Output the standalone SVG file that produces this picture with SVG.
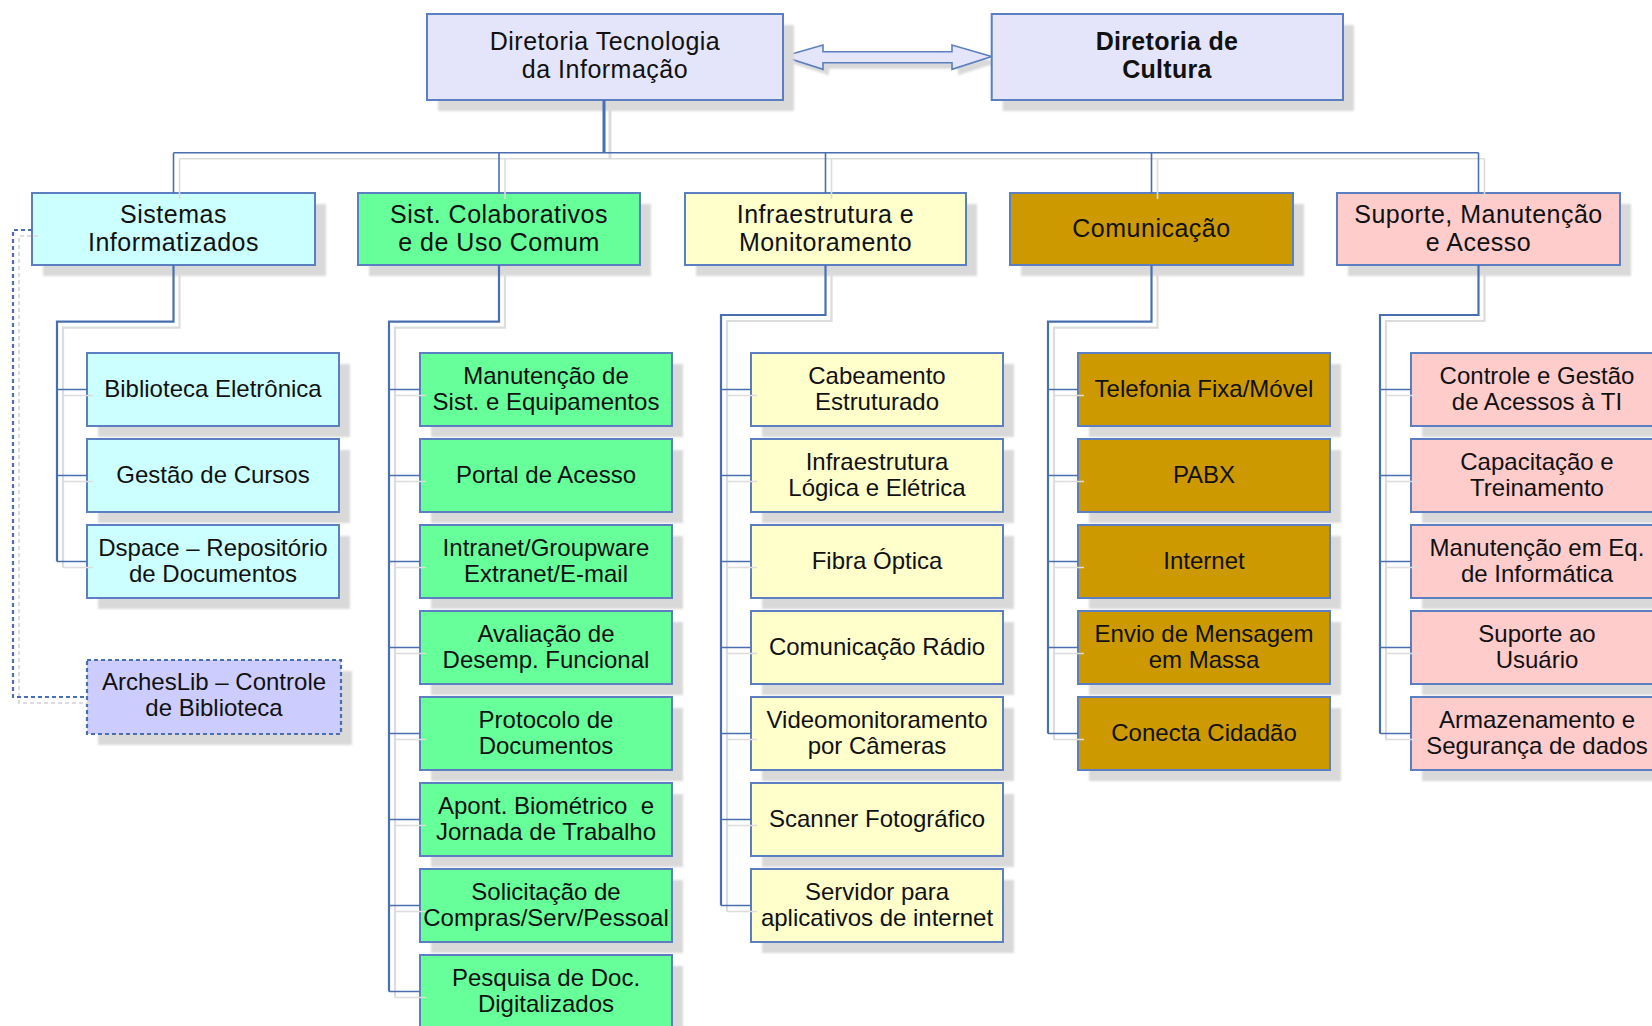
<svg xmlns="http://www.w3.org/2000/svg" width="1652" height="1026" viewBox="0 0 1652 1026">
<defs>
<filter id="blur" x="-5%" y="-5%" width="110%" height="110%"><feGaussianBlur stdDeviation="1"/></filter>
<style>
.sh{fill:#d9d9d9;filter:url(#blur)}
.box{stroke:#5b7fc0;stroke-width:2}
.lav{fill:#e4e5fb}
.cy{fill:#ccffff}
.gr{fill:#66ff99}
.ye{fill:#ffffcc}
.go{fill:#cc9900}
.pk{fill:#ffcccc}
.ar{fill:#ccccff;stroke:#4a6fb0;stroke-width:2.2;stroke-dasharray:4 3}
text{font-family:"Liberation Sans",Arial,sans-serif;fill:#111;text-anchor:middle}
.t0{font-size:25px;letter-spacing:0.5px}
.tb{font-size:25px;font-weight:bold;letter-spacing:0.3px}
.t2{font-size:24px}
.c{fill:none;stroke:#4a6fb0;stroke-linejoin:miter}
.cs{fill:none;stroke:#dcdcdc}
.w3{stroke-width:3}
.w2{stroke-width:2.2}
.w15{stroke-width:1.6}
.w1{stroke-width:1.3}
.dash{stroke-dasharray:4 3;stroke-width:2.2}
</style>
</defs>
<rect width="1652" height="1026" fill="#ffffff"/>

<!-- double arrow -->
<g id="arrow">
<polygon class="sh" transform="translate(6,6)" points="783,56.5 823,45 823,51.7 952,51.7 952,45 991.7,56.5 952,69.3 952,62.7 823,62.7 823,69.3"/>
<polygon fill="#e4e5fb" stroke="#5b7fc0" stroke-width="1.6" points="783,56.5 823,45 823,51.7 952,51.7 952,45 991.7,56.5 952,69.3 952,62.7 823,62.7 823,69.3"/>
</g>

<!-- top level -->
<g id="n-dti">
<rect class="sh" x="438" y="25" width="356" height="86"/>
<rect class="box lav" x="427" y="14" width="356" height="86"/>
<text class="t0" x="605" y="50">Diretoria Tecnologia</text>
<text class="t0" x="605" y="78.3">da Informação</text>
</g>
<g id="n-cultura">
<rect class="sh" x="1002.7" y="25" width="351.3" height="86"/>
<rect class="box lav" x="991.7" y="14" width="351.3" height="86"/>
<text class="tb" x="1167" y="50">Diretoria de</text>
<text class="tb" x="1167" y="78.3">Cultura</text>
</g>

<!-- level 1 -->
<g id="n-sistemas">
<rect class="sh" x="43" y="204" width="283" height="72"/>
<rect class="box cy" x="32" y="193" width="283" height="72"/>
<text class="t0" x="173.5" y="223.3">Sistemas</text>
<text class="t0" x="173.5" y="250.7">Informatizados</text>
</g>
<g id="n-colab">
<rect class="sh" x="369" y="204" width="282" height="72"/>
<rect class="box gr" x="358" y="193" width="282" height="72"/>
<text class="t0" x="499" y="223.3">Sist. Colaborativos</text>
<text class="t0" x="499" y="250.7">e de Uso Comum</text>
</g>
<g id="n-infra">
<rect class="sh" x="696" y="204" width="281" height="72"/>
<rect class="box ye" x="685" y="193" width="281" height="72"/>
<text class="t0" x="825.5" y="223.3">Infraestrutura e</text>
<text class="t0" x="825.5" y="250.7">Monitoramento</text>
</g>
<g id="n-com">
<rect class="sh" x="1021" y="204" width="283" height="72"/>
<rect class="box go" x="1010" y="193" width="283" height="72"/>
<text class="t0" x="1151.5" y="236.7">Comunicação</text>
</g>
<g id="n-suporte">
<rect class="sh" x="1348" y="204" width="283" height="72"/>
<rect class="box pk" x="1337" y="193" width="283" height="72"/>
<text class="t0" x="1478.5" y="223.3">Suporte, Manutenção</text>
<text class="t0" x="1478.5" y="250.7">e Acesso</text>
</g>

<!-- col 0 children -->
<g id="n-biblioteca">
<rect class="sh" x="98" y="364" width="252" height="73"/>
<rect class="box cy" x="87" y="353" width="252" height="73"/>
<text class="t2" x="213" y="397">Biblioteca Eletrônica</text>
</g>
<g id="n-gestao-cursos">
<rect class="sh" x="98" y="450" width="252" height="73"/>
<rect class="box cy" x="87" y="439" width="252" height="73"/>
<text class="t2" x="213" y="483">Gestão de Cursos</text>
</g>
<g id="n-dspace">
<rect class="sh" x="98" y="536" width="252" height="73"/>
<rect class="box cy" x="87" y="525" width="252" height="73"/>
<text class="t2" x="213" y="555.5">Dspace – Repositório</text>
<text class="t2" x="213" y="582">de Documentos</text>
</g>
<g id="n-archeslib">
<rect class="sh" x="98" y="671" width="254" height="74"/>
<rect class="ar" x="87" y="660" width="254" height="74"/>
<text class="t2" x="214" y="690">ArchesLib – Controle</text>
<text class="t2" x="214" y="716">de Biblioteca</text>
</g>

<!-- col 1 children -->
<g id="n-manut-sist">
<rect class="sh" x="431" y="364" width="252" height="73"/>
<rect class="box gr" x="420" y="353" width="252" height="73"/>
<text class="t2" x="546" y="383.5">Manutenção de</text>
<text class="t2" x="546" y="410">Sist. e Equipamentos</text>
</g>
<g id="n-portal">
<rect class="sh" x="431" y="450" width="252" height="73"/>
<rect class="box gr" x="420" y="439" width="252" height="73"/>
<text class="t2" x="546" y="483">Portal de Acesso</text>
</g>
<g id="n-intranet">
<rect class="sh" x="431" y="536" width="252" height="73"/>
<rect class="box gr" x="420" y="525" width="252" height="73"/>
<text class="t2" x="546" y="555.5">Intranet/Groupware</text>
<text class="t2" x="546" y="582">Extranet/E-mail</text>
</g>
<g id="n-avaliacao">
<rect class="sh" x="431" y="622" width="252" height="73"/>
<rect class="box gr" x="420" y="611" width="252" height="73"/>
<text class="t2" x="546" y="641.5">Avaliação de</text>
<text class="t2" x="546" y="668">Desemp. Funcional</text>
</g>
<g id="n-protocolo">
<rect class="sh" x="431" y="708" width="252" height="73"/>
<rect class="box gr" x="420" y="697" width="252" height="73"/>
<text class="t2" x="546" y="727.5">Protocolo de</text>
<text class="t2" x="546" y="754">Documentos</text>
</g>
<g id="n-apont">
<rect class="sh" x="431" y="794" width="252" height="73"/>
<rect class="box gr" x="420" y="783" width="252" height="73"/>
<text class="t2" x="546" y="813.5">Apont. Biométrico&#160; e</text>
<text class="t2" x="546" y="840">Jornada de Trabalho</text>
</g>
<g id="n-solicitacao">
<rect class="sh" x="431" y="880" width="252" height="73"/>
<rect class="box gr" x="420" y="869" width="252" height="73"/>
<text class="t2" x="546" y="899.5">Solicitação de</text>
<text class="t2" x="546" y="926">Compras/Serv/Pessoal</text>
</g>
<g id="n-pesquisa">
<rect class="sh" x="431" y="966" width="252" height="73"/>
<rect class="box gr" x="420" y="955" width="252" height="73"/>
<text class="t2" x="546" y="985.5">Pesquisa de Doc.</text>
<text class="t2" x="546" y="1012">Digitalizados</text>
</g>

<!-- col 2 children -->
<g id="n-cabeamento">
<rect class="sh" x="762" y="364" width="252" height="73"/>
<rect class="box ye" x="751" y="353" width="252" height="73"/>
<text class="t2" x="877" y="383.5">Cabeamento</text>
<text class="t2" x="877" y="410">Estruturado</text>
</g>
<g id="n-infra-logica">
<rect class="sh" x="762" y="450" width="252" height="73"/>
<rect class="box ye" x="751" y="439" width="252" height="73"/>
<text class="t2" x="877" y="469.5">Infraestrutura</text>
<text class="t2" x="877" y="496">Lógica e Elétrica</text>
</g>
<g id="n-fibra">
<rect class="sh" x="762" y="536" width="252" height="73"/>
<rect class="box ye" x="751" y="525" width="252" height="73"/>
<text class="t2" x="877" y="569">Fibra Óptica</text>
</g>
<g id="n-radio">
<rect class="sh" x="762" y="622" width="252" height="73"/>
<rect class="box ye" x="751" y="611" width="252" height="73"/>
<text class="t2" x="877" y="655">Comunicação Rádio</text>
</g>
<g id="n-video">
<rect class="sh" x="762" y="708" width="252" height="73"/>
<rect class="box ye" x="751" y="697" width="252" height="73"/>
<text class="t2" x="877" y="727.5">Videomonitoramento</text>
<text class="t2" x="877" y="754">por Câmeras</text>
</g>
<g id="n-scanner">
<rect class="sh" x="762" y="794" width="252" height="73"/>
<rect class="box ye" x="751" y="783" width="252" height="73"/>
<text class="t2" x="877" y="827">Scanner Fotográfico</text>
</g>
<g id="n-servidor">
<rect class="sh" x="762" y="880" width="252" height="73"/>
<rect class="box ye" x="751" y="869" width="252" height="73"/>
<text class="t2" x="877" y="899.5">Servidor para</text>
<text class="t2" x="877" y="926">aplicativos de internet</text>
</g>

<!-- col 3 children -->
<g id="n-telefonia">
<rect class="sh" x="1089" y="364" width="252" height="73"/>
<rect class="box go" x="1078" y="353" width="252" height="73"/>
<text class="t2" x="1204" y="397">Telefonia Fixa/Móvel</text>
</g>
<g id="n-pabx">
<rect class="sh" x="1089" y="450" width="252" height="73"/>
<rect class="box go" x="1078" y="439" width="252" height="73"/>
<text class="t2" x="1204" y="483">PABX</text>
</g>
<g id="n-internet">
<rect class="sh" x="1089" y="536" width="252" height="73"/>
<rect class="box go" x="1078" y="525" width="252" height="73"/>
<text class="t2" x="1204" y="569">Internet</text>
</g>
<g id="n-envio">
<rect class="sh" x="1089" y="622" width="252" height="73"/>
<rect class="box go" x="1078" y="611" width="252" height="73"/>
<text class="t2" x="1204" y="641.5">Envio de Mensagem</text>
<text class="t2" x="1204" y="668">em Massa</text>
</g>
<g id="n-conecta">
<rect class="sh" x="1089" y="708" width="252" height="73"/>
<rect class="box go" x="1078" y="697" width="252" height="73"/>
<text class="t2" x="1204" y="741">Conecta Cidadão</text>
</g>

<!-- col 4 children -->
<g id="n-controle">
<rect class="sh" x="1422" y="364" width="252" height="73"/>
<rect class="box pk" x="1411" y="353" width="252" height="73"/>
<text class="t2" x="1537" y="383.5">Controle e Gestão</text>
<text class="t2" x="1537" y="410">de Acessos à TI</text>
</g>
<g id="n-capacitacao">
<rect class="sh" x="1422" y="450" width="252" height="73"/>
<rect class="box pk" x="1411" y="439" width="252" height="73"/>
<text class="t2" x="1537" y="469.5">Capacitação e</text>
<text class="t2" x="1537" y="496">Treinamento</text>
</g>
<g id="n-manut-eq">
<rect class="sh" x="1422" y="536" width="252" height="73"/>
<rect class="box pk" x="1411" y="525" width="252" height="73"/>
<text class="t2" x="1537" y="555.5">Manutenção em Eq.</text>
<text class="t2" x="1537" y="582">de Informática</text>
</g>
<g id="n-suporte-usuario">
<rect class="sh" x="1422" y="622" width="252" height="73"/>
<rect class="box pk" x="1411" y="611" width="252" height="73"/>
<text class="t2" x="1537" y="641.5">Suporte ao</text>
<text class="t2" x="1537" y="668">Usuário</text>
</g>
<g id="n-armazenamento">
<rect class="sh" x="1422" y="708" width="252" height="73"/>
<rect class="box pk" x="1411" y="697" width="252" height="73"/>
<text class="t2" x="1537" y="727.5">Armazenamento e</text>
<text class="t2" x="1537" y="754">Segurança de dados</text>
</g>

<!-- connectors -->
<g id="connectors">
<g id="connector-shadows" transform="translate(6,6)">
<path class="cs w3" d="M604 100V152.7"/>
<path class="cs w15" d="M173.5 152.7H1478.5M173.5 152.7V193M499 152.7V193M825.5 152.7V193M1151.5 152.7V193M1478.5 152.7V193"/>
<path class="cs w2" d="M173.5 265V321.7H57V561.5M499 265V321.7H389V991.5M825.5 265V315H721V905.5M1151.5 265V321.7H1048V733.5M1478.5 265V315H1380V733.5"/>
<path class="cs w1" d="M57 389.5H87M57 475.5H87M57 561.5H87"/>
<path class="cs w1" d="M389 389.5H420M389 475.5H420M389 561.5H420M389 647.5H420M389 733.5H420M389 819.5H420M389 905.5H420M389 991.5H420"/>
<path class="cs w1" d="M721 389.5H751M721 475.5H751M721 561.5H751M721 647.5H751M721 733.5H751M721 819.5H751M721 905.5H751"/>
<path class="cs w1" d="M1048 389.5H1078M1048 475.5H1078M1048 561.5H1078M1048 647.5H1078M1048 733.5H1078"/>
<path class="cs w1" d="M1380 389.5H1411M1380 475.5H1411M1380 561.5H1411M1380 647.5H1411M1380 733.5H1411"/>
<path class="cs dash" d="M32 230H13V697H87"/>
</g>
<path class="c w3" d="M604 100V152.7"/>
<path class="c w15" d="M173.5 152.7H1478.5M173.5 152.7V193M499 152.7V193M825.5 152.7V193M1151.5 152.7V193M1478.5 152.7V193"/>
<path class="c w2" d="M173.5 265V321.7H57V561.5"/>
<path class="c w2" d="M499 265V321.7H389V991.5"/>
<path class="c w2" d="M825.5 265V315H721V905.5"/>
<path class="c w2" d="M1151.5 265V321.7H1048V733.5"/>
<path class="c w2" d="M1478.5 265V315H1380V733.5"/>
<path class="c w1" d="M57 389.5H87M57 475.5H87M57 561.5H87"/>
<path class="c w1" d="M389 389.5H420M389 475.5H420M389 561.5H420M389 647.5H420M389 733.5H420M389 819.5H420M389 905.5H420M389 991.5H420"/>
<path class="c w1" d="M721 389.5H751M721 475.5H751M721 561.5H751M721 647.5H751M721 733.5H751M721 819.5H751M721 905.5H751"/>
<path class="c w1" d="M1048 389.5H1078M1048 475.5H1078M1048 561.5H1078M1048 647.5H1078M1048 733.5H1078"/>
<path class="c w1" d="M1380 389.5H1411M1380 475.5H1411M1380 561.5H1411M1380 647.5H1411M1380 733.5H1411"/>
<path class="c dash" d="M32 230H13V697H87"/>
</g>
</svg>
